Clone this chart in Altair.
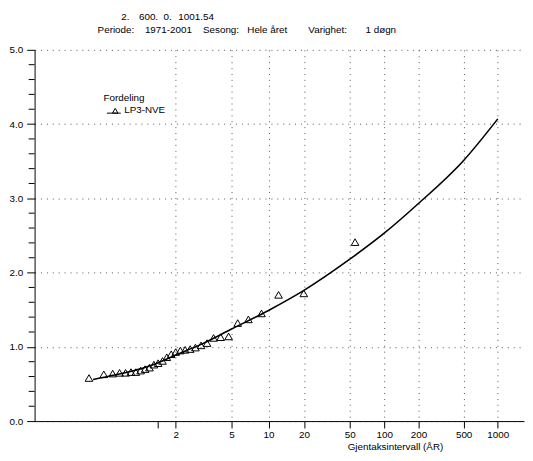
import math
import altair as alt
import pandas as pd

# ---- data ----
# observed annual maxima, sorted ascending, with their (Gringorten) return periods
obs_T = [1.018, 1.053, 1.090, 1.129, 1.172, 1.218, 1.267, 1.321, 1.379, 1.443,
         1.514, 1.591, 1.677, 1.772, 1.879, 2.0, 2.137, 2.295, 2.478, 2.692,
         2.947, 3.255, 3.636, 4.116, 4.744, 5.597, 6.825, 8.742, 12.156, 19.949, 55.571]
obs_val = [0.58, 0.63, 0.64, 0.65, 0.65, 0.66, 0.66, 0.68, 0.70, 0.72,
           0.76, 0.78, 0.81, 0.86, 0.90, 0.93, 0.95, 0.96, 0.97, 0.99,
           1.02, 1.05, 1.12, 1.13, 1.14, 1.32, 1.37, 1.45, 1.70, 1.72, 2.41]

# fitted LP3-NVE distribution curve
curve_T = [1.025, 1.1, 1.25, 1.5, 2, 3, 5, 10, 20, 50, 100, 200, 500, 1000]
curve_val = [0.56, 0.62, 0.68, 0.76, 0.89, 1.04, 1.24, 1.49, 1.76, 2.18, 2.53, 2.93, 3.51, 4.07]

x_tick_T = [2, 5, 10, 20, 50, 100, 200, 500, 1000]
y_ticks = [0, 1, 2, 3, 4, 5]
y_minor = [round(0.2 * i, 1) for i in range(26) if i % 5 != 0]

series_label = "LP3-NVE"
legend_title = "Fordeling"
x_title = "Gjentaksintervall (ÅR)"
header1 = ["2.", "600.", "0.", "1001.54"]
header2 = ["Periode:", "1971-2001", "Sesong:", "Hele året", "Varighet:", "1 døgn"]

FONT = "Liberation Sans"


def gumbel(T):
    return -math.log(-math.log(1 - 1 / T))


x_tick_vals = [0.0] + [gumbel(t) for t in x_tick_T]
U = "-log(-log(1 - 1/datum.T))"

obs_df = pd.DataFrame({"T": obs_T, "value": obs_val, "serie": series_label})
curve_df = pd.DataFrame({"T": curve_T, "value": curve_val})

x_scale = alt.Scale(domain=[-2.5, 7.44], nice=False, zero=False)
y_scale = alt.Scale(domain=[0, 5], nice=False, zero=True)

GRID = dict(grid=True, gridDash=[1, 5], gridColor="#555555", gridWidth=1)

x_axis = alt.Axis(
    values=x_tick_vals,
    labelExpr="datum.value == 0 ? '' : format(1/(1-exp(-exp(-datum.value))), '.0f')",
    title=x_title, titleX=366, titleY=26, titleAlign="center", titleBaseline="middle",
    titleFont=FONT, titleFontSize=10, titleFontWeight="normal", titleColor="black",
    labelFont=FONT, labelFontSize=10, labelColor="black", labelPadding=2,
    labelOverlap=False, labelFlush=False,
    tickSize=7, tickColor="black", domainColor="black",
    gridOpacity={"condition": {"test": "datum.value == 0", "value": 0}, "value": 1},
    **GRID,
)
y_axis = alt.Axis(
    values=y_ticks, format=".1f", title=None,
    labelFont=FONT, labelFontSize=10, labelColor="black", labelPadding=4,
    tickSize=8, tickColor="black", domainColor="black",
    **GRID,
)

sym = "M-1,0.4L1,0.4M-0.2,0.4L0.2,-0.3L0.6,0.4Z"

points = alt.Chart(obs_df).transform_calculate(u=U).mark_point(
    shape="triangle-up", filled=False, size=60, strokeWidth=1, opacity=1
).encode(
    x=alt.X("u:Q", scale=x_scale, axis=x_axis),
    y=alt.Y("value:Q", scale=y_scale, axis=y_axis),
    stroke=alt.Stroke(
        "serie:N", scale=alt.Scale(range=["black"]),
        legend=alt.Legend(
            title=legend_title, orient="none", legendX=70, legendY=44,
            symbolType=sym, symbolSize=196, symbolStrokeWidth=1, symbolOffset=3,
            labelFont=FONT, labelFontSize=10, labelColor="black", labelOffset=3,
            titleFont=FONT, titleFontSize=10, titleFontWeight="normal", titleColor="black",
            titlePadding=0, padding=0,
        ),
    ),
)

curve = alt.Chart(curve_df).transform_calculate(u=U).mark_line(
    color="black", strokeWidth=1.6, interpolate="monotone"
).encode(
    x=alt.X("u:Q", scale=x_scale),
    y=alt.Y("value:Q", scale=y_scale),
)

minor = alt.Chart(pd.DataFrame({"v": y_minor})).mark_rule(color="black", strokeWidth=1).encode(
    y=alt.Y("v:Q", scale=y_scale),
    x=alt.value(-6),
    x2=alt.value(0),
)


def label(s, px, py):
    return alt.Chart(pd.DataFrame({"t": [s]})).mark_text(
        font=FONT, fontSize=10, align="left", baseline="middle", color="black"
    ).encode(x=alt.value(px), y=alt.value(py), text="t:N")


h1_x = [88, 106, 131, 146]
h2_x = [64, 112, 171, 216, 278, 336]
texts = [label(s, px, -33) for s, px in zip(header1, h1_x)] + \
        [label(s, px, -20) for s, px in zip(header2, h2_x)]

chart = alt.layer(curve, points, minor, *texts).properties(
    width=497, height=377,
    autosize=alt.AutoSizeParams(type="none"),
    padding={"left": 27, "top": 39, "right": 1, "bottom": 34},
).configure_view(stroke=None)

chart.save("out.html", embed_options={"renderer": "svg", "actions": False})
